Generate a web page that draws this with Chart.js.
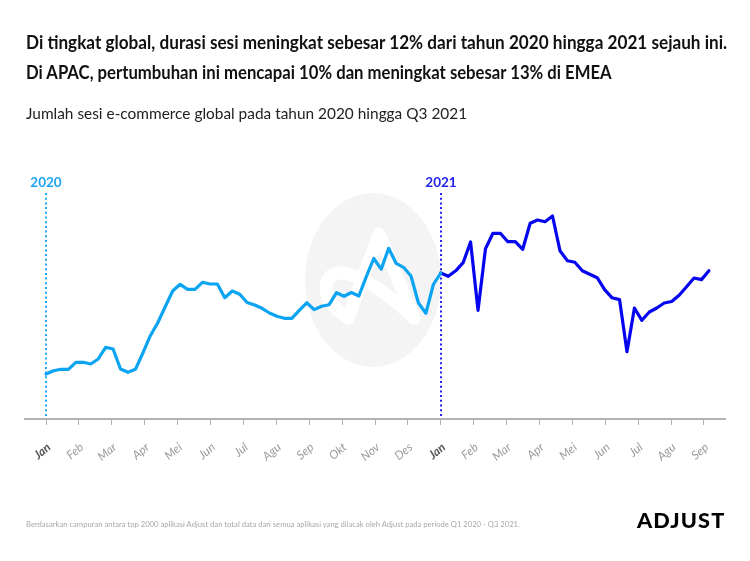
<!DOCTYPE html>
<html>
<head>
<meta charset="utf-8">
<script src="https://cdn.jsdelivr.net/npm/chart.js@4.4.0/dist/chart.umd.min.js"></script>
<style>
  html, body { margin: 0; padding: 0; background: #fff; }
  #wrap { position: relative; width: 750px; height: 561px; overflow: hidden; font-family: Lato, 'Noto Sans', sans-serif; }
  #chart { position: absolute; left: 0; top: 0; }
  .fit { position: absolute; left: 26px; white-space: nowrap; transform-origin: 0 0; line-height: 1.2; }
  .title { font-weight: 700; font-size: 18px; color: #111; }
  .sub { font-size: 16px; color: #222; top: 103px; }
  .foot { font-size: 7.5px; color: #a8a8a8; top: 520px; }
  .logo { left: 637px; font-weight: 900; font-size: 20px; letter-spacing: 1px; color: #000; top: 508px; }
</style>
</head>
<body>
<div id="wrap">
  <canvas id="chart" width="750" height="561"></canvas>
  <div class="fit title" style="top:32px" data-w="701">Di tingkat global, durasi sesi meningkat sebesar 12% dari tahun 2020 hingga 2021 sejauh ini.</div>
  <div class="fit title" style="top:62px" data-w="586">Di APAC, pertumbuhan ini mencapai 10% dan meningkat sebesar 13% di EMEA</div>
  <div class="fit sub" data-w="441">Jumlah sesi e-commerce global pada tahun 2020 hingga Q3 2021</div>
  <div class="fit foot" data-w="494">Berdasarkan campuran antara top 2000 aplikasi Adjust dan total data dari semua aplikasi yang dilacak oleh Adjust pada periode Q1 2020 - Q3 2021.</div>
  <div class="fit logo" data-w="88">ADJUST</div>
</div>
<script>
// bulan di sumbu x (Jan 2020 .. Sep 2021)
const monthLabels = ['Jan','Feb','Mar','Apr','Mei','Jun','Jul','Agu','Sep','Okt','Nov','Des',
                     'Jan','Feb','Mar','Apr','Mei','Jun','Jul','Agu','Sep'];

// sesi mingguan (indeks relatif)
const sessions2020 = [45, 48.3, 49.7, 49.7, 56.7, 56.7, 55, 60, 71.7, 70, 50, 46.7, 49.7, 66,
  83.3, 96.3, 112.3, 128, 134.7, 129.7, 129.7, 136.7, 135, 135, 121.3, 128, 124.8, 116.5,
  114, 110.7, 106, 102.7, 100.7, 100.7, 108.7, 116.2, 109.4, 112.8, 114.3, 126.3, 122.7,
  126.5, 123, 142.3, 160.5, 149.8, 170.7, 155.7, 151.7, 143, 116, 105.7, 134.5, 146];

const sessions2021 = [146, 142.7, 148.2, 156.3, 177, 108.7, 170.2, 185.7, 185.7, 177.3,
  177.3, 169.7, 195.7, 199, 197.3, 203, 168.3, 158.3, 156.7, 148.3, 144.8, 141.3, 129.4,
  121.2, 119.4, 67.3, 111, 98.7, 107, 111, 116, 117.5, 123.7, 132.3, 141, 139.4, 148.3];

const yearMarkers = [
  { label: '2020', month: 0, color: '#1ba5f3' },
  { label: '2021', month: 12, color: '#2323f2' },
];

const WEEK = 12 / 53; // satu minggu dalam satuan bulan

function toPoints(values, startMonth){
  return values.map((v, i) => ({ x: startMonth + i * WEEK, y: v }));
}

const backdrop = {
  id: 'backdrop',
  beforeDatasetsDraw(chart){
    const { ctx, scales: { x } } = chart;
    ctx.save();
    // watermark logo Adjust
    ctx.fillStyle = '#f4f4f4';
    ctx.beginPath();
    ctx.ellipse(373, 280, 68, 87, 0, 0, Math.PI * 2);
    ctx.fill();
    ctx.strokeStyle = '#ffffff';
    ctx.lineWidth = 13;
    ctx.lineCap = 'round';
    ctx.lineJoin = 'round';
    ctx.beginPath();
    ctx.moveTo(348, 318);
    ctx.lineTo(379, 234);
    ctx.lineTo(414, 318);
    ctx.bezierCurveTo(380, 286, 336, 258, 327, 282);
    ctx.bezierCurveTo(322, 298, 338, 311, 348, 318);
    ctx.stroke();

    // garis putus-putus tahun
    yearMarkers.forEach(m => {
      const px = Math.round(x.getPixelForValue(m.month));
      ctx.strokeStyle = m.color;
      ctx.lineWidth = 2;
      ctx.lineCap = 'butt';
      ctx.setLineDash([2, 2.7]);
      ctx.beginPath();
      ctx.moveTo(px, 193);
      ctx.lineTo(px, 416);
      ctx.stroke();
      ctx.setLineDash([]);
      ctx.fillStyle = m.color;
      ctx.font = 'bold 13.5px Lato, sans-serif';
      ctx.textAlign = 'center';
      ctx.textBaseline = 'alphabetic';
      ctx.fillText(m.label, px, 187);
    });
    ctx.restore();
  }
};

function fitTexts(){
  document.querySelectorAll('.fit').forEach(el => {
    const target = Number(el.dataset.w);
    const w = el.scrollWidth;
    if (w > 0) el.style.transform = `scaleX(${target / w})`;
  });
}

new Chart(document.getElementById('chart'), {
  type: 'line',
  data: {
    datasets: [
      { label: '2020', data: toPoints(sessions2020, 0), borderColor: '#0ba4f2', borderWidth: 3.2 },
      { label: '2021', data: toPoints(sessions2021, 12), borderColor: '#0505f0', borderWidth: 3.2 },
    ]
  },
  options: {
    responsive: false,
    animation: false,
    layout: { padding: { top: 190, left: 25, right: 25, bottom: 82 } },
    elements: {
      point: { radius: 0 },
      line: { tension: 0, borderJoinStyle: 'round', borderCapStyle: 'round' }
    },
    plugins: { legend: { display: false }, tooltip: { enabled: false } },
    scales: {
      x: {
        type: 'linear',
        min: -0.64,
        max: 20.64,
        afterBuildTicks: (scale) => { scale.ticks = monthLabels.map((_, i) => ({ value: i })); },
        afterFit: (scale) => { scale.height = 60; },
        border: { display: true, color: '#b3b3b3', width: 2 },
        grid: { drawOnChartArea: false, drawTicks: true, tickLength: 6, color: '#b3b3b3', lineWidth: 1 },
        ticks: {
          autoSkip: false,
          minRotation: 40,
          maxRotation: 40,
          align: 'center',
          padding: 15,
          labelOffset: 3,
          callback: (v) => monthLabels[v],
          color: (c) => monthLabels[c.index] === 'Jan' ? '#555' : '#9c9c9c',
          font: (c) => ({
            family: 'Lato, sans-serif',
            size: 12,
            style: 'italic',
            weight: monthLabels[c.index] === 'Jan' ? 'bold' : 'normal'
          })
        }
      },
      y: { display: false, min: 0, max: 229 }
    }
  },
  plugins: [backdrop]
});

document.fonts.ready.then(fitTexts);
fitTexts();
</script>
</body>
</html>
